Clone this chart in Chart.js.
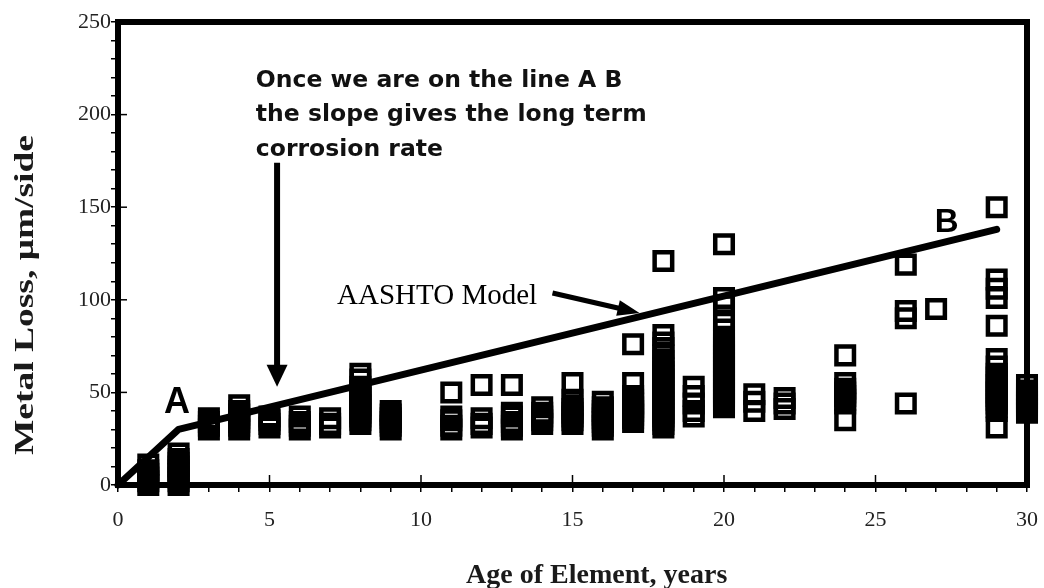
<!DOCTYPE html>
<html>
<head>
<meta charset="utf-8">
<script src="https://cdn.jsdelivr.net/npm/chart.js@4.4.1/dist/chart.umd.min.js"></script>
<style>
  body { margin: 0; background: #fff; }
  canvas { display: block; }
</style>
</head>
<body>
<canvas id="grafico" width="1044" height="588"></canvas>
<script>
// ages (years) with the metal loss readings (um/side) measured at each age
const ages = [1, 2, 3, 4, 5, 6, 7, 8, 9, 11, 12, 13, 14, 15, 16, 17, 18, 19, 20, 21, 22, 24, 26, 27, 29, 30];
const metalLoss = [
  [0, 2, 4, 6, 8, 11],
  [0, 2, 4, 6, 8, 10, 12, 14, 17],
  [30, 32, 34, 36],
  [30, 32, 34, 36, 38, 40, 43],
  [31, 33, 35, 37],
  [30, 32, 34, 37],
  [31, 33, 36],
  [33, 35, 37, 39, 41, 43, 45, 47, 49, 51, 53, 57, 60],
  [30, 32, 34, 36, 38, 40],
  [30, 32, 35, 37, 50],
  [31, 33, 36, 54],
  [30, 32, 34, 37, 39, 54],
  [33, 35, 37, 39, 42],
  [33, 35, 37, 39, 41, 43, 46, 55],
  [30, 32, 34, 36, 38, 40, 42, 45],
  [34, 36, 38, 40, 42, 44, 46, 48, 55, 76],
  [31, 33, 35, 37, 39, 41, 43, 45, 47, 49, 51, 53, 55, 57, 59, 61, 63, 65, 67, 70, 74, 77, 81, 121],
  [37, 40, 44, 48, 53],
  [42, 44, 46, 48, 50, 52, 54, 56, 58, 60, 62, 64, 66, 68, 70, 72, 74, 76, 78, 80, 84, 89, 97, 101, 130],
  [40, 45, 49],
  [41, 44, 47],
  [35, 44, 46, 48, 50, 52, 55, 70],
  [44, 90, 94, 119],
  [95],
  [31, 40, 42, 44, 46, 48, 50, 52, 54, 56, 58, 60, 64, 68, 86, 101, 106, 111, 150],
  [39, 41, 43, 45, 47, 49, 51, 54]
];

// AASHTO model line A-B
const modelAge = [0, 2, 29];
const modelLoss = [0, 30, 138];

const xTicks = [0, 5, 10, 15, 20, 25, 30];
const yTicks = [0, 50, 100, 150, 200, 250];

const pontos = [];
ages.forEach((a, i) => metalLoss[i].forEach(v => pontos.push({ x: a, y: v })));
const linha = modelAge.map((a, i) => ({ x: a, y: modelLoss[i] }));

function seta(ctx, x1, y1, x2, y2, largura, cabeca, abertura) {
  const ang = Math.atan2(y2 - y1, x2 - x1);
  const bx = x2 - Math.cos(ang) * cabeca;
  const by = y2 - Math.sin(ang) * cabeca;
  ctx.strokeStyle = '#000';
  ctx.fillStyle = '#000';
  ctx.lineWidth = largura;
  ctx.lineCap = 'butt';
  ctx.beginPath();
  ctx.moveTo(x1, y1);
  ctx.lineTo(bx + Math.cos(ang) * 2, by + Math.sin(ang) * 2);
  ctx.stroke();
  ctx.beginPath();
  ctx.moveTo(x2, y2);
  ctx.lineTo(bx + Math.sin(ang) * abertura, by - Math.cos(ang) * abertura);
  ctx.lineTo(bx - Math.sin(ang) * abertura, by + Math.cos(ang) * abertura);
  ctx.closePath();
  ctx.fill();
}

const moldura = {
  id: 'moldura',
  afterDatasetsDraw(chart) {
    const { ctx, chartArea: ca } = chart;
    const xs = chart.scales.x, ys = chart.scales.y;
    ctx.save();
    // inner part of the major ticks
    ctx.strokeStyle = '#000';
    ctx.lineWidth = 1.5;
    xTicks.forEach(t => {
      const px = xs.getPixelForValue(t);
      ctx.beginPath(); ctx.moveTo(px, ca.bottom); ctx.lineTo(px, ca.bottom - 10); ctx.stroke();
    });
    yTicks.forEach(t => {
      const py = ys.getPixelForValue(t);
      ctx.beginPath(); ctx.moveTo(ca.left, py); ctx.lineTo(ca.left + 9, py); ctx.stroke();
    });
    // heavy frame
    ctx.lineWidth = 6;
    ctx.strokeRect(ca.left, ca.top, ca.right - ca.left, ca.bottom - ca.top);

    // annotations
    ctx.fillStyle = '#111';
    ctx.textAlign = 'left';
    ctx.textBaseline = 'alphabetic';
    ctx.font = 'bold 23.5px "DejaVu Sans"';
    const tx = xs.getPixelForValue(4.55);
    const ty = ys.getPixelForValue(215);
    ['Once we are on the line A B', 'the slope gives the long term', 'corrosion rate']
      .forEach((l, i) => ctx.fillText(l, tx, ty + i * 34.5));

    seta(ctx, xs.getPixelForValue(5.25), ys.getPixelForValue(174),
      xs.getPixelForValue(5.25), ys.getPixelForValue(53), 6, 22, 10.5);

    ctx.font = '29px "Liberation Serif"';
    ctx.textBaseline = 'middle';
    ctx.fillText('AASHTO Model', xs.getPixelForValue(7.23), ys.getPixelForValue(102));
    seta(ctx, xs.getPixelForValue(14.34), ys.getPixelForValue(103.7),
      xs.getPixelForValue(17.21), ys.getPixelForValue(92.9), 5, 22, 8);

    ctx.textAlign = 'center';
    ctx.textBaseline = 'alphabetic';
    ctx.font = 'bold 36px "Liberation Sans"';
    ctx.fillText('A', xs.getPixelForValue(1.95), ys.getPixelForValue(38.9));
    ctx.font = 'bold 33px "Liberation Sans"';
    ctx.fillText('B', xs.getPixelForValue(27.35), ys.getPixelForValue(136.6));

    // axis titles
    ctx.fillStyle = '#1a1a1a';
    ctx.font = 'bold 28px "Liberation Serif"';
    ctx.fillText('Age of Element, years', xs.getPixelForValue(15.8), ca.bottom + 98);

    // y title is stretched along its length like the original
    const titulo = 'Metal Loss, μm/side';
    ctx.font = 'bold 27px "Liberation Serif"';
    ctx.textBaseline = 'middle';
    const w = ctx.measureText(titulo).width;
    ctx.translate(26, 295);
    ctx.rotate(-Math.PI / 2);
    ctx.scale(320 / w, 1);
    ctx.fillText(titulo, 0, 0);
    ctx.restore();
  }
};

const ctx = document.getElementById('grafico').getContext('2d');
new Chart(ctx, {
  data: {
    datasets: [
      {
        type: 'line',
        data: linha,
        borderColor: '#000',
        borderWidth: 7,
        borderCapStyle: 'round',
        borderJoinStyle: 'round',
        pointRadius: 0,
        tension: 0,
        clip: false,
        order: 0
      },
      {
        type: 'scatter',
        data: pontos,
        pointStyle: 'rect',
        pointRadius: 12.4,
        pointBorderWidth: 4.5,
        backgroundColor: 'rgba(255,255,255,0)',
        borderColor: '#000',
        clip: false,
        order: 1
      }
    ]
  },
  options: {
    responsive: false,
    devicePixelRatio: 1,
    animation: false,
    events: [],
    layout: { padding: { left: 0, top: 22, right: 17, bottom: 0 } },
    plugins: { legend: { display: false }, tooltip: { enabled: false } },
    scales: {
      x: {
        type: 'linear',
        min: 0,
        max: 30,
        afterFit: s => { s.height = 103; s.paddingRight = 0; s.paddingLeft = 0; },
        border: { display: false },
        grid: { drawOnChartArea: false, drawTicks: true, tickLength: 7, color: '#000', lineWidth: 1.5 },
        ticks: {
          stepSize: 1,
          autoSkip: false,
          maxRotation: 0,
          padding: 15,
          color: '#222',
          font: { family: 'Liberation Serif', size: 22 },
          callback: v => xTicks.includes(v) ? String(v) : ''
        }
      },
      y: {
        type: 'linear',
        min: 0,
        max: 250,
        afterFit: s => { s.width = 118; },
        border: { display: false },
        grid: { drawOnChartArea: false, drawTicks: true, tickLength: 7, color: '#000', lineWidth: 1.5 },
        ticks: {
          stepSize: 10,
          autoSkip: false,
          padding: 0,
          color: '#222',
          font: { family: 'Liberation Serif', size: 22 },
          callback: v => yTicks.includes(v) ? String(v) : ''
        }
      }
    }
  },
  plugins: [moldura]
});
</script>
</body>
</html>
